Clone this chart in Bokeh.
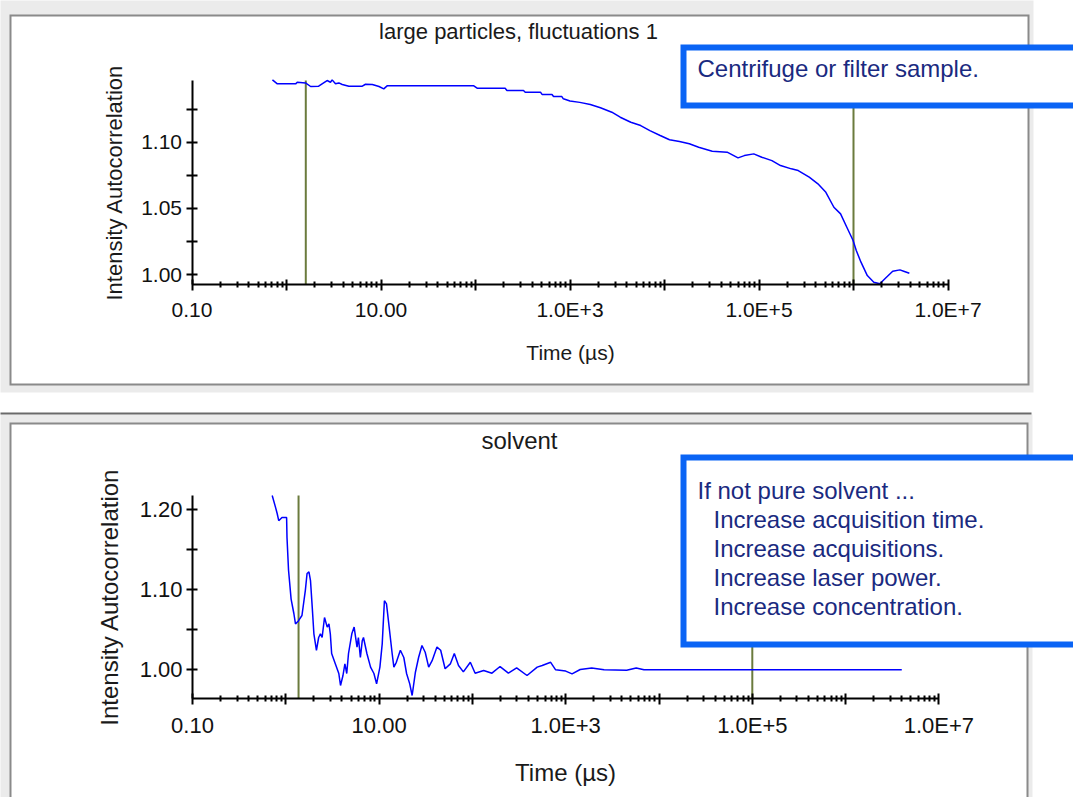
from bokeh.plotting import figure
from bokeh.layouts import column
from bokeh.models import (FixedTicker, PrintfTickFormatter, BoxAnnotation,
                          Label, Range1d)
from bokeh.embed import file_html
from bokeh.resources import INLINE

FONT = "Liberation Sans"

# ---------------- data ----------------
top_title = "large particles, fluctuations 1"
top_time = [0.71, 0.80, 1.25, 1.30, 1.59, 1.80, 2.19, 2.38, 2.69, 2.92,
            3.04, 3.30, 3.58, 3.89, 4.57, 6.34, 6.86, 8.09, 9.53, 10.7,
            11.6, 96, 104, 206, 215, 322, 336, 487, 506, 645,
            670, 820, 850, 1.0e3, 1.27e3, 1.64e3, 2.1e3, 2.77e3, 3.4e3, 4.4e3,
            5.6e3, 7.0e3, 9.0e3, 1.13e4, 1.44e4, 1.83e4, 2.3e4, 3.2e4, 4.6e4, 6.0e4,
            7.0e4, 8.8e4, 1.07e5, 1.37e5, 1.69e5, 2.2e5, 2.6e5, 3.4e5, 4.2e5, 5.1e5,
            6.2e5, 7.3e5, 8.5e5, 9.9e5, 1.07e6, 1.2e6, 1.4e6, 1.64e6, 1.9e6, 2.15e6,
            2.6e6, 3.1e6, 3.4e6, 3.9e6]
top_g2 = [1.147, 1.144, 1.144, 1.1452, 1.1447, 1.142, 1.1422, 1.144, 1.1465, 1.1452,
          1.147, 1.144, 1.1447, 1.1435, 1.1422, 1.1422, 1.1437, 1.1435, 1.142, 1.1402,
          1.1425, 1.1425, 1.1407, 1.1407, 1.139, 1.139, 1.1377, 1.1377, 1.136, 1.136,
          1.1344, 1.1344, 1.1327, 1.131, 1.130, 1.1284, 1.1259, 1.1226, 1.1188, 1.115,
          1.1125, 1.1087, 1.105, 1.1018, 1.1005, 1.0987, 1.0961, 1.0931, 1.0924, 1.0881,
          1.0898, 1.0911, 1.0886, 1.086, 1.0823, 1.0798, 1.0785, 1.0735, 1.0685, 1.0621,
          1.0508, 1.0458, 1.0357, 1.0257, 1.0181, 1.0093, 0.9992, 0.9942, 0.993, 0.9968,
          1.0025, 1.0035, 1.0025, 1.001]
top_markers = [1.6, 1.0e6]
top_y_bounds = (0.99245, 1.14653)
top_y_ticks = [1.00, 1.05, 1.10]
top_y_minor = [1.025, 1.075, 1.125]
top_note = ["Centrifuge or filter sample."]

bottom_title = "solvent"
bottom_time = [0.715, 0.775, 0.808, 0.84, 0.91, 1.02, 1.03, 1.07, 1.14, 1.22,
               1.27, 1.37, 1.49, 1.62, 1.69, 1.77, 1.84, 1.92, 2.0, 2.13,
               2.25, 2.35, 2.45, 2.6, 2.78, 2.9, 3.0, 3.1, 3.4, 3.7,
               3.86, 4.1, 4.3, 4.5, 4.7, 5.1, 5.4, 5.8, 6.0, 6.3,
               6.6, 6.8, 7.4, 8.1, 8.8, 9.4, 10.2, 10.8, 11.4, 12.0,
               12.7, 13.8, 14.4, 15.3, 16.9, 18.4, 19.7, 21.3, 22.6, 24.5,
               26.5, 28.8, 31.2, 34, 37, 41.7, 45.7, 51, 58, 64,
               71, 80, 95, 107, 132, 162, 198, 243, 298, 385,
               495, 560, 690, 780, 1000, 1170, 1430, 1900, 2580, 4500,
               5700, 6900, 4.0e6]
bottom_g2 = [1.2175, 1.203, 1.195, 1.186, 1.190, 1.190, 1.165, 1.124, 1.088, 1.070,
             1.057, 1.061, 1.0675, 1.099, 1.120, 1.122, 1.111, 1.078, 1.0446, 1.024,
             1.040, 1.0446, 1.040, 1.065, 1.053, 1.057, 1.0446, 1.020, 1.007, 0.995,
             0.980, 0.9925, 1.007, 0.995, 1.020, 1.0446, 1.053, 1.028, 1.040, 1.015,
             1.036, 1.040, 1.020, 1.003, 0.995, 0.982, 1.003, 1.032, 1.086, 1.082,
             1.057, 1.020, 1.003, 1.009, 1.024, 1.015, 0.995, 0.982, 0.9675, 0.9966,
             1.015, 1.030, 1.0216, 1.003, 1.011, 1.028, 1.024, 1.001, 1.007, 1.020,
             1.005, 0.997, 1.009, 0.9954, 0.9988, 0.9954, 1.0037, 0.9954, 1.002, 0.9925,
             1.003, 1.005, 1.009, 0.9996, 0.998, 0.9946, 1.000, 1.002, 0.9996, 0.999,
             1.002, 0.9996, 0.9996]
bottom_markers = [1.37, 1.0e5]
bottom_y_bounds = (0.963375, 1.2175)
bottom_y_ticks = [1.00, 1.10, 1.20]
bottom_y_minor = [1.05, 1.15]
bottom_note = ["If not pure solvent ...",
               "Increase acquisition time.",
               "Increase acquisitions.",
               "Increase laser power.",
               "Increase concentration."]

x_bounds = (0.1, 1.0e7)
x_ticks = [0.1, 1.0, 10.0, 100.0, 1.0e3, 1.0e4, 1.0e5, 1.0e6, 1.0e7]
x_tick_labels = ["0.10", "", "10.00", "", "1.0E+3", "", "1.0E+5", "", "1.0E+7"]
x_minor = [k * d for d in x_ticks[:-1] for k in range(2, 10)]
x_label = "Time (\u00b5s)"
y_label = "Intensity Autocorrelation"

# ---------------- styles / layout (pixels) ----------------
W = 1073
CURVE = "#0000ff"
MARK = "#6b7b3d"
BLUE = "#0a64f5"
NAVY = "#1a2a80"
GRAY_BG = "#ebebeb"
BORDER = "#8a8a8a"


def cbox(l, r, t, b, fill, line=None, lw=1, level="image"):
    return BoxAnnotation(left=l, right=r, top=t, bottom=b,
                         left_units="canvas", right_units="canvas",
                         top_units="canvas", bottom_units="canvas",
                         fill_color=fill, fill_alpha=1.0,
                         line_color=line, line_alpha=1.0, line_width=lw,
                         line_join="miter", level=level)


def clabel(x, y, text, size, color, align="left", level="annotation"):
    return Label(x=x, y=y, x_units="canvas", y_units="canvas", text=text,
                 text_font=FONT, text_font_size=size, text_color=color,
                 text_align=align, text_baseline="middle", level=level)


def make_panel(height, x0, dec, ybase, ypx_per_unit, yb, times, g2, markers, yt, ym,
               tick_px, xlab_px, ylab_px, xlab_standoff, ylab_standoff):
    # x0: canvas x of 0.1; dec: pixels per decade
    # ybase: canvas y of value 1.00; ypx_per_unit: pixels per 1.0 of y
    xr = Range1d(10 ** (-1 - x0 / dec), 10 ** (-1 + (W - x0) / dec))
    yr = Range1d(1.0 - (height - ybase) / ypx_per_unit, 1.0 + ybase / ypx_per_unit)
    p = figure(width=W, height=height, x_axis_type="log", x_range=xr, y_range=yr,
               output_backend="svg", toolbar_location=None,
               min_border=0, min_border_left=0, min_border_right=0,
               min_border_top=0, min_border_bottom=0)
    p.border_fill_color = "white"
    p.background_fill_color = "white"
    p.outline_line_color = None
    p.xgrid.visible = False
    p.ygrid.visible = False

    xa = p.xaxis[0]
    ya = p.yaxis[0]
    xa.fixed_location = yb[0]
    xa.bounds = x_bounds
    ya.fixed_location = x_bounds[0]
    ya.bounds = yb
    xa.ticker = FixedTicker(ticks=x_ticks, minor_ticks=x_minor)
    xa.major_label_overrides = {t: s for t, s in zip(x_ticks, x_tick_labels)}
    xa.major_tick_in, xa.major_tick_out = 5, 6
    xa.minor_tick_in, xa.minor_tick_out = 3, 3
    xa.major_label_standoff = 8
    xa.axis_label = x_label
    xa.axis_label_standoff = xlab_standoff
    ya.ticker = FixedTicker(ticks=yt, minor_ticks=ym)
    ya.formatter = PrintfTickFormatter(format="%.2f")
    ya.major_tick_in, ya.major_tick_out = 5, 6
    ya.minor_tick_in, ya.minor_tick_out = 5, 6
    ya.major_label_standoff = 4
    ya.axis_label = y_label
    ya.axis_label_standoff = ylab_standoff
    for ax in (xa, ya):
        ax.axis_line_color = "black"
        ax.axis_line_width = 2
        ax.major_tick_line_color = "black"
        ax.major_tick_line_width = 2
        ax.minor_tick_line_color = "black"
        ax.minor_tick_line_width = 2
        ax.major_label_text_font = FONT
        ax.major_label_text_font_size = tick_px
        ax.major_label_text_color = "#111111"
        ax.axis_label_text_font = FONT
        ax.axis_label_text_font_style = "normal"
        ax.axis_label_text_color = "#1a1a1a"
    xa.axis_label_text_font_size = xlab_px
    ya.axis_label_text_font_size = ylab_px

    p.segment(x0=markers, x1=markers, y0=[yb[0]] * len(markers),
              y1=[yb[1]] * len(markers), line_color=MARK, line_width=2,
              level="underlay")
    p.line(times, g2, line_color=CURVE, line_width=1.5)
    return p


# ---------------- top panel (canvas y == page y) ----------------
p1 = make_panel(400, 191.5, 94.5, 274.0, 66.2 / 0.05, top_y_bounds,
                top_time, top_g2, top_markers, top_y_ticks, top_y_minor,
                "21px", "21px", "22px", 16, 12)
p1.add_layout(cbox(-5, 1033, -5, 392, GRAY_BG))
p1.add_layout(cbox(10, 1028, 15, 384, "white", BORDER, 2))
p1.add_layout(clabel(518, 31, top_title, "22px", "#1a1a1a", "center"))
p1.add_layout(cbox(683, 1095, 47, 105, "white", BLUE, 6, level="overlay"))
p1.add_layout(clabel(697, 68, top_note[0], "24px", NAVY, level="overlay"))

# ---------------- bottom panel (canvas y == page y - 400) ----------------
p2 = make_panel(397, 192.0, 93.3, 669.0 - 400, 80.0 / 0.1, bottom_y_bounds,
                bottom_time, bottom_g2, bottom_markers, bottom_y_ticks, bottom_y_minor,
                "22px", "24px", "24px", 18, 14)
p2.add_layout(cbox(-5, 1032, 14, 420, GRAY_BG))
p2.add_layout(cbox(-5, 1031, 12, 14, "#6a6a6a"))
p2.add_layout(cbox(10, 1027, 23, 430, "white", BORDER, 2))
p2.add_layout(clabel(519, 40, bottom_title, "24px", "#1a1a1a", "center"))
p2.add_layout(cbox(683, 1095, 57, 244, "white", BLUE, 6, level="overlay"))
for i, line in enumerate(bottom_note):
    p2.add_layout(clabel(697 if i == 0 else 713, 90 + 29 * i, line, "24px",
                         NAVY, level="overlay"))

layout = column(p1, p2, spacing=0)
open("out.html", "w").write(file_html(layout, INLINE))
